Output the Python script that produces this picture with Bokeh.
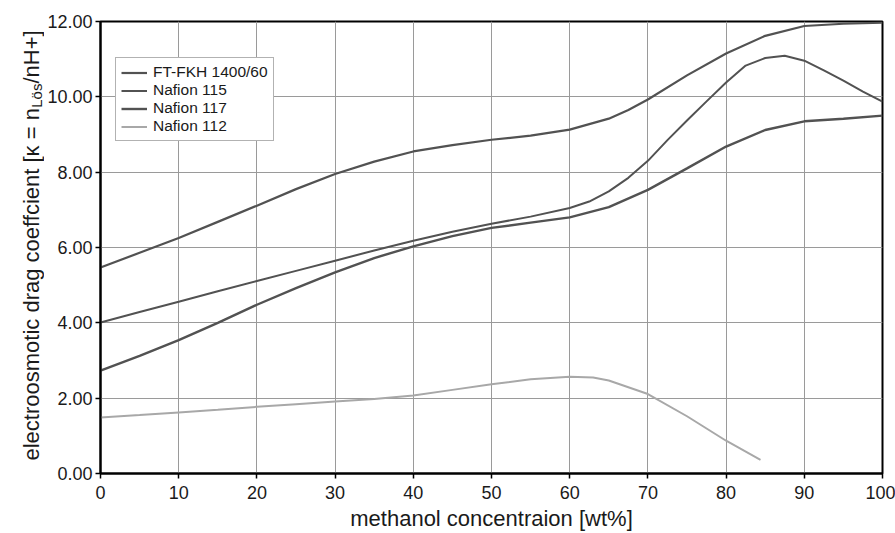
from bokeh.plotting import figure
from bokeh.layouts import row
from bokeh.models import Range1d, Legend, LegendItem, FixedTicker, PrintfTickFormatter
from bokeh.core.properties import value
from bokeh.embed import file_html
from bokeh.resources import INLINE
import math

# ---------------- data ----------------
series_names = ["FT-FKH 1400/60", "Nafion 115", "Nafion 117", "Nafion 112"]

x_fkh = [0, 5, 10, 15, 20, 25, 30, 35, 40, 45, 50, 55, 60, 65, 67.5, 70, 75, 80, 85, 90, 95, 100]
y_fkh = [5.47, 5.86, 6.25, 6.68, 7.11, 7.55, 7.95, 8.28, 8.55, 8.72, 8.86, 8.97, 9.13, 9.42, 9.65, 9.93, 10.57, 11.15, 11.62, 11.88, 11.94, 11.97]

x_115 = [0, 5, 10, 15, 20, 25, 30, 35, 40, 45, 50, 55, 60, 62.5, 65, 67.5, 70, 72.5, 75, 77.5, 80, 82.5, 85, 87.5, 90, 92.5, 95, 97.5, 100]
y_115 = [4.01, 4.29, 4.56, 4.84, 5.11, 5.38, 5.65, 5.92, 6.18, 6.42, 6.63, 6.82, 7.05, 7.22, 7.49, 7.85, 8.30, 8.85, 9.37, 9.88, 10.38, 10.83, 11.03, 11.09, 10.96, 10.70, 10.43, 10.14, 9.87]

x_117 = [0, 5, 10, 15, 20, 25, 30, 35, 40, 45, 50, 55, 60, 65, 70, 75, 80, 85, 90, 95, 100]
y_117 = [2.73, 3.12, 3.54, 4.00, 4.48, 4.92, 5.34, 5.72, 6.03, 6.30, 6.52, 6.66, 6.80, 7.07, 7.53, 8.10, 8.68, 9.12, 9.35, 9.42, 9.50]

x_112 = [0, 5, 10, 15, 20, 25, 30, 35, 40, 45, 50, 55, 60, 63, 65, 70, 75, 80, 84.4]
y_112 = [1.49, 1.55, 1.62, 1.69, 1.77, 1.84, 1.91, 1.98, 2.07, 2.22, 2.37, 2.50, 2.57, 2.55, 2.47, 2.11, 1.52, 0.87, 0.36]

x_ticks = [0, 10, 20, 30, 40, 50, 60, 70, 80, 90, 100]
y_ticks = [0, 2, 4, 6, 8, 10, 12]

x_title = "methanol concentraion [wt%]"
y_title_parts = ["electroosmotic drag coeffcient [\u03ba = n", "L\u00f6s", "/nH+]"]

FONT = "Liberation Sans"
TXT = "#1a1a1a"
TOTAL_W, TOTAL_H = 895, 533
LEFT_W = 44
FRAME_TOP, FRAME_BOTTOM = 21, 473

# ---------------- main figure ----------------
p = figure(width=TOTAL_W - LEFT_W, height=TOTAL_H, output_backend="svg",
           toolbar_location=None, x_range=Range1d(0, 100), y_range=Range1d(0, 12),
           min_border_left=100 - LEFT_W, min_border_right=13, min_border_top=FRAME_TOP,
           min_border_bottom=TOTAL_H - FRAME_BOTTOM)
p.title.visible = False
p.outline_line_color = "black"
p.outline_line_width = 2

for ax in (p.xaxis[0], p.yaxis[0]):
    ax.axis_line_color = "black"
    ax.axis_line_width = 2
    ax.major_tick_line_color = "black"
    ax.major_tick_line_width = 1.5
    ax.major_tick_out = 5
    ax.major_tick_in = 0
    ax.minor_tick_line_color = None
    ax.major_label_text_font = FONT
    ax.major_label_text_font_size = "18px"
    ax.major_label_text_color = TXT

p.xaxis.ticker = FixedTicker(ticks=x_ticks)
p.yaxis.ticker = FixedTicker(ticks=y_ticks)
p.yaxis.formatter = PrintfTickFormatter(format="%.2f")
p.xaxis.major_label_standoff = 7
p.yaxis.major_label_standoff = 3
p.xaxis.axis_label = x_title
p.xaxis.axis_label_text_font = FONT
p.xaxis.axis_label_text_font_size = "22px"
p.xaxis.axis_label_text_font_style = "normal"
p.xaxis.axis_label_text_color = TXT
p.xaxis.axis_label_standoff = 4

p.xgrid.ticker = FixedTicker(ticks=x_ticks)
p.ygrid.ticker = FixedTicker(ticks=y_ticks)
p.grid.grid_line_color = "#9a9a9a"
p.grid.grid_line_width = 1

dark = "#525252"
light = "#a8a8a8"
r1 = p.line(x_fkh, y_fkh, line_color=dark, line_width=2.2)
r2 = p.line(x_115, y_115, line_color=dark, line_width=2.0)
r3 = p.line(x_117, y_117, line_color=dark, line_width=2.4)
r4 = p.line(x_112, y_112, line_color=light, line_width=2.0)

legend = Legend(items=[LegendItem(label=series_names[0], renderers=[r1]),
                       LegendItem(label=series_names[1], renderers=[r2]),
                       LegendItem(label=series_names[2], renderers=[r3]),
                       LegendItem(label=series_names[3], renderers=[r4])],
                location=(15, 332))
legend.label_text_font = FONT
legend.label_text_font_size = "15.5px"
legend.label_text_color = TXT
legend.glyph_width = 26
legend.glyph_height = 15
legend.label_height = 15
legend.label_standoff = 6
legend.spacing = 0
legend.padding = 5
legend.margin = 0
legend.border_line_color = "#666666"
legend.border_line_width = 1
legend.background_fill_color = "white"
legend.background_fill_alpha = 1
p.add_layout(legend, "center")

# ---------------- left strip with the rotated y-axis title ----------------
# (its frame is aligned with the main frame by the row layout, so the
#  y range is expressed in page pixels of the frame's extent)
q = figure(width=LEFT_W, height=TOTAL_H, output_backend="svg", toolbar_location=None,
           x_range=Range1d(0, LEFT_W), y_range=Range1d(FRAME_BOTTOM, FRAME_TOP),
           x_axis_location=None, y_axis_location=None,
           min_border_left=0, min_border_right=0, min_border_top=FRAME_TOP,
           min_border_bottom=TOTAL_H - FRAME_BOTTOM)
q.title.visible = False
q.outline_line_color = None
q.grid.visible = False

fs_main, fs_sub = 22, 15
w_main = 16.035 * fs_main   # approx. advance width of first part
w_sub = 1.612 * fs_sub
y0 = 460
q.text(x=[31], y=[y0], text=[y_title_parts[0]], angle=math.pi / 2,
       text_font=value(FONT), text_font_size=value(f"{fs_main}px"),
       text_align="left", text_baseline="alphabetic", text_color=TXT)
q.text(x=[35.5], y=[y0 - w_main], text=[y_title_parts[1]], angle=math.pi / 2,
       text_font=value(FONT), text_font_size=value(f"{fs_sub}px"),
       text_align="left", text_baseline="alphabetic", text_color=TXT)
q.text(x=[31], y=[y0 - w_main - w_sub], text=[y_title_parts[2]], angle=math.pi / 2,
       text_font=value(FONT), text_font_size=value(f"{fs_main}px"),
       text_align="left", text_baseline="alphabetic", text_color=TXT)

layout = row(q, p, spacing=0)
open("out.html", "w").write(file_html(layout, INLINE))
